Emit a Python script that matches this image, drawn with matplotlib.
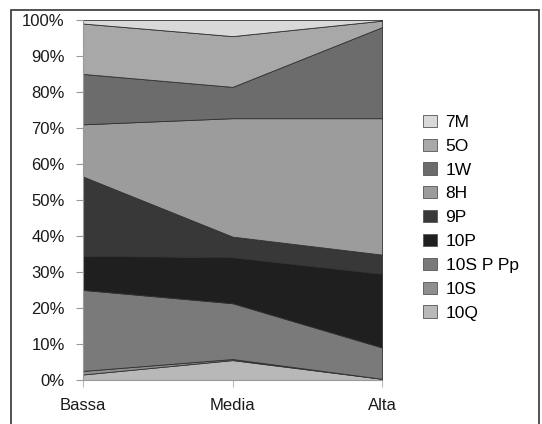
import matplotlib
matplotlib.use("Agg")
import matplotlib.pyplot as plt
from matplotlib.patches import Rectangle
from matplotlib.ticker import PercentFormatter
import numpy as np

plt.rcParams['font.family'] = ['Liberation Sans', 'DejaVu Sans']

categories = ["Bassa", "Media", "Alta"]

# series, bottom to top (percent shares)
series_names = ["10Q", "10S", "10S P Pp", "10P", "9P", "8H", "1W", "5O", "7M"]
s_10Q = [1.5, 5.5, 0.3]
s_10S = [1.0, 0.3, 0.0]
s_10SPPp = [22.5, 15.5, 8.7]
s_10P = [9.5, 12.8, 20.5]
s_9P = [22.0, 5.7, 5.3]
s_8H = [14.5, 32.9, 37.9]
s_1W = [14.0, 8.7, 25.3]
s_5O = [14.0, 14.1, 1.8]
s_7M = [1.0, 4.5, 0.2]

colors = ["#b8b8b8", "#8e8e8e", "#7a7a7a", "#1f1f1f", "#383838",
          "#9c9c9c", "#6c6c6c", "#a8a8a8", "#d9d9d9"]

data = np.array([s_10Q, s_10S, s_10SPPp, s_10P, s_9P, s_8H, s_1W, s_5O, s_7M])
data = data / data.sum(axis=0) * 100

fig = plt.figure(figsize=(5.42, 4.24), dpi=100)
ax = fig.add_axes([0.153, 0.104, 0.552, 0.849])

x = np.arange(len(categories))
polys = ax.stackplot(x, data, colors=colors, edgecolor="#303030", linewidth=0.6)

ax.set_xlim(0, 2)
ax.set_ylim(0, 100)
ax.set_yticks(np.arange(0, 101, 10))
ax.yaxis.set_major_formatter(PercentFormatter(decimals=0))
ax.set_xticks(x)
ax.set_xticklabels(categories)
ax.tick_params(axis="both", labelsize=12, labelcolor="#1a1a1a", length=5, width=0.8)
ax.tick_params(axis="y", color="#999999", pad=8)
ax.tick_params(axis="x", color="#bbbbbb", pad=8)

for side in ["top", "right"]:
    ax.spines[side].set_visible(False)
ax.spines["left"].set_color("#999999")
ax.spines["bottom"].set_color("#999999")

# legend, top entry first like the original
handles = list(polys)[::-1]
labels = series_names[::-1]
leg = fig.legend(handles, labels, loc="upper left", bbox_to_anchor=(0.758, 0.758),
                 frameon=False, prop={"size": 12.5}, handlelength=0.8, handleheight=0.7,
                 handletextpad=0.5, labelspacing=0.5, borderpad=0.2)
for h in leg.legend_handles:
    h.set_edgecolor("#555555")
    h.set_linewidth(0.6)

# outer chart frame
fig.patches.append(Rectangle((11 / 542, -0.01), 528 / 542, (414 / 424) + 0.01,
                             transform=fig.transFigure, fill=False,
                             edgecolor="#333333", linewidth=1.2))

plt.savefig("out.png", dpi=100)
